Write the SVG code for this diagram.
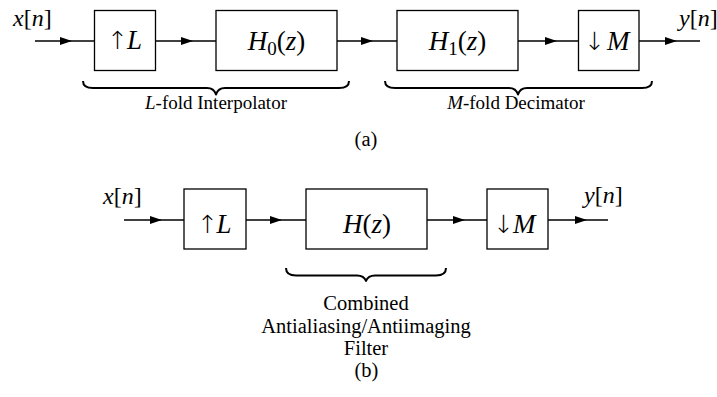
<svg xmlns="http://www.w3.org/2000/svg" width="717" height="397" viewBox="0 0 717 397">
  <style>
    text { font-family: "Liberation Serif", "Times New Roman", serif; fill: #000; }
    .box { fill: #fff; stroke: #000; stroke-width: 1.3; }
    .wire { fill: none; stroke: #000; stroke-width: 1.3; marker-mid: url(#head); }
    .brace { fill: none; stroke: #000; stroke-width: 2; stroke-linejoin: round; }
    .blk { font-size: 27px; }
    .sig { font-size: 24px; }
    .lbl { font-size: 19px; text-anchor: middle; }
    .cap { font-size: 20.5px; text-anchor: middle; }
    .it { font-style: italic; }
    .arw { font-family: "DejaVu Sans", "DejaVu Serif", sans-serif; font-weight: 200; font-size: 25px; fill: #000; }
  </style>
  <defs>
    <!-- filled arrowhead, tip sits on the mid vertex of each wire -->
    <marker id="head" markerUnits="userSpaceOnUse" markerWidth="13" markerHeight="10" refX="12" refY="4.5" orient="auto">
      <path d="M0,0.5 L12,4.5 L0,8.5 Z" fill="#000"/>
    </marker>
  </defs>

  <!-- ===== (a) cascade: interpolator followed by decimator ===== -->
  <g id="connectors-a">
    <polyline class="wire" points="35,41 72,41 94.5,41"/>
    <polyline class="wire" points="155.5,41 193,41 216,41"/>
    <polyline class="wire" points="337,41 373,41 397,41"/>
    <polyline class="wire" points="518,41 557,41 578.5,41"/>
    <polyline class="wire" points="639,41 677,41 700,41"/>
  </g>

  <g id="in-a">
    <text class="sig" x="13" y="26"><tspan class="it">x</tspan>[<tspan class="it">n</tspan>]</text>
  </g>
  <g id="up-a">
    <rect class="box" x="94.5" y="10.5" width="61" height="60"/>
    <text class="blk" y="49"><tspan class="arw" x="107">↑</tspan><tspan class="it" x="127">L</tspan></text>
  </g>
  <g id="h0">
    <rect class="box" x="216" y="10.5" width="121" height="60"/>
    <text class="blk" x="276.5" y="50" text-anchor="middle"><tspan class="it">H</tspan><tspan font-size="19" dy="5">0</tspan><tspan dy="-5">(</tspan><tspan class="it">z</tspan>)</text>
  </g>
  <g id="h1">
    <rect class="box" x="397" y="10.5" width="121" height="60"/>
    <text class="blk" x="457.5" y="50" text-anchor="middle"><tspan class="it">H</tspan><tspan font-size="19" dy="5">1</tspan><tspan dy="-5">(</tspan><tspan class="it">z</tspan>)</text>
  </g>
  <g id="down-a">
    <rect class="box" x="578.5" y="10.5" width="60.5" height="60"/>
    <text class="blk" y="50"><tspan class="arw" x="584">↓</tspan><tspan class="it" x="607">M</tspan></text>
  </g>
  <g id="out-a">
    <text class="sig" x="679" y="26"><tspan class="it">y</tspan>[<tspan class="it">n</tspan>]</text>
  </g>

  <g id="interp-brace">
    <path class="brace" d="M83,81 Q83,88 93,88 L207,88 Q214,88 216,94.5 Q218,88 225,88 L339,88 Q349,88 349,81"/>
    <text class="lbl" x="216" y="109"><tspan class="it">L</tspan>-fold Interpolator</text>
  </g>
  <g id="decim-brace">
    <path class="brace" d="M385,81 Q385,88 395,88 L509,88 Q516,88 518,94.5 Q520,88 527,88 L642,88 Q652,88 652,81"/>
    <text class="lbl" x="516" y="109"><tspan class="it">M</tspan>-fold Decimator</text>
  </g>
  <text class="cap" x="366" y="146">(a)</text>

  <!-- ===== (b) single combined filter ===== -->
  <g id="connectors-b">
    <polyline class="wire" points="124,220 162,220 184,220"/>
    <polyline class="wire" points="246,220 282,220 306,220"/>
    <polyline class="wire" points="427,220 465,220 487,220"/>
    <polyline class="wire" points="548,220 587,220 608,220"/>
  </g>

  <g id="in-b">
    <text class="sig" x="103" y="204"><tspan class="it">x</tspan>[<tspan class="it">n</tspan>]</text>
  </g>
  <g id="up-b">
    <rect class="box" x="184" y="189" width="62" height="60"/>
    <text class="blk" y="233"><tspan class="arw" x="197">↑</tspan><tspan class="it" x="216.5">L</tspan></text>
  </g>
  <g id="h">
    <rect class="box" x="306" y="189" width="121" height="60"/>
    <text class="blk" x="367" y="233" text-anchor="middle"><tspan class="it">H</tspan>(<tspan class="it">z</tspan>)</text>
  </g>
  <g id="down-b">
    <rect class="box" x="487" y="189" width="61" height="60"/>
    <text class="blk" y="233"><tspan class="arw" x="493">↓</tspan><tspan class="it" x="513">M</tspan></text>
  </g>
  <g id="out-b">
    <text class="sig" x="584" y="203"><tspan class="it">y</tspan>[<tspan class="it">n</tspan>]</text>
  </g>

  <g id="filter-brace">
    <path class="brace" d="M286,268 Q286,275.5 296,275.5 L357,275.5 Q364,275.5 366,281 Q368,275.5 375,275.5 L436,275.5 Q446,275.5 446,268"/>
    <text class="cap" x="366" y="310">Combined</text>
    <text class="cap" x="366" y="333">Antialiasing/Antiimaging</text>
    <text class="cap" x="366" y="355">Filter</text>
  </g>
  <text class="cap" x="366.5" y="377">(b)</text>
</svg>
